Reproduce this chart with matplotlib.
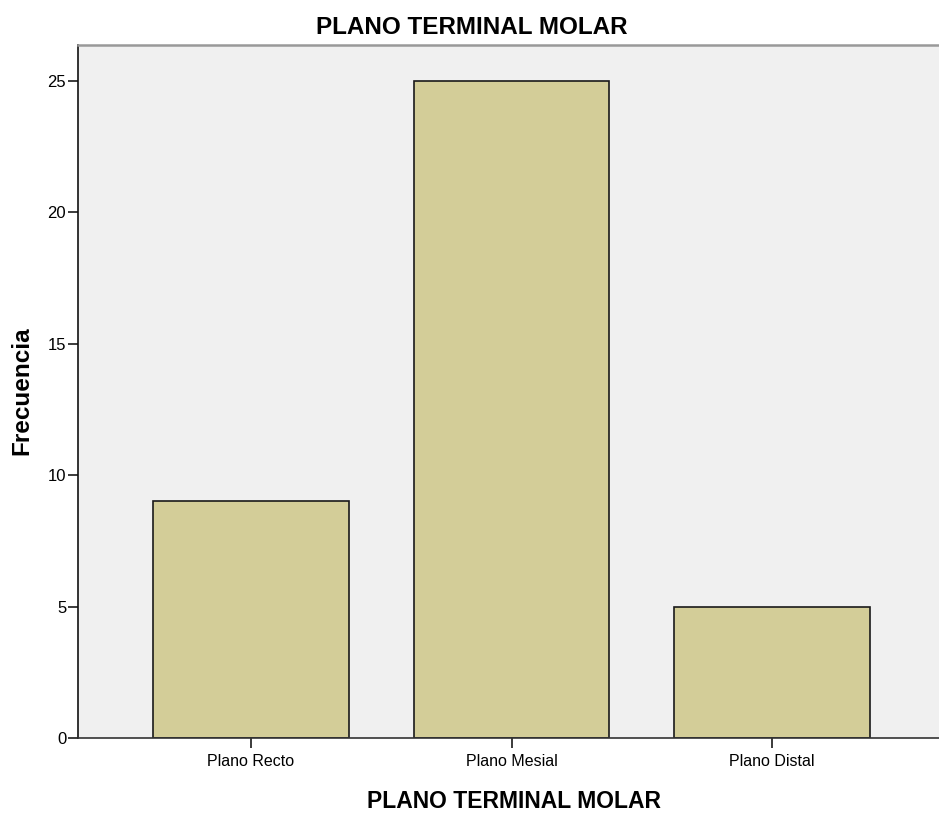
import numpy as np
import matplotlib.pyplot as plt

# Datos del gráfico
categorias = ["Plano Recto", "Plano Mesial", "Plano Distal"]
frecuencias = [9, 25, 5]
yticks = [0, 5, 10, 15, 20, 25]

fuente = ["Liberation Sans", "DejaVu Sans"]

fig = plt.figure(figsize=(9.39, 8.14), dpi=100)
ax = fig.add_axes([78 / 939, 76 / 814, 867 / 939, 693 / 814])
ax.set_facecolor("#f0f0f0")

x = np.arange(len(categorias))
ax.bar(x, frecuencias, width=0.75, color="#d3cd98", edgecolor="#1a1a1a", linewidth=1.2)

ax.set_xlim(-0.664, 2.664)
ax.set_ylim(0, 26.37)
ax.set_xticks(x)
ax.set_xticklabels(categorias, family=fuente, fontsize=11.5)
ax.set_yticks(yticks)
ax.set_yticklabels([str(v) for v in yticks], family=fuente, fontsize=12)
ax.tick_params(axis="both", length=7.5, width=1.2, color="#1a1a1a", pad=1)
ax.tick_params(axis="x", pad=4)

ax.spines["top"].set_color("#999999")
ax.spines["top"].set_linewidth(1.8)
ax.spines["right"].set_visible(False)
ax.spines["left"].set_linewidth(1.2)
ax.spines["left"].set_color("#111111")
ax.spines["bottom"].set_linewidth(1.2)
ax.spines["bottom"].set_color("#333333")

fig.text(472 / 939, 1 - 27 / 814, "PLANO TERMINAL MOLAR", ha="center", va="center",
         fontsize=17.5, fontweight="bold", family=fuente)
fig.text(514 / 939, 1 - 802 / 814, "PLANO TERMINAL MOLAR", ha="center", va="center",
         fontsize=16.5, fontweight="bold", family=fuente)
fig.text(22 / 939, 1 - 391 / 814, "Frecuencia", ha="center", va="center", rotation=90,
         fontsize=17.5, fontweight="bold", family=fuente)

fig.savefig("out.png", dpi=100)
